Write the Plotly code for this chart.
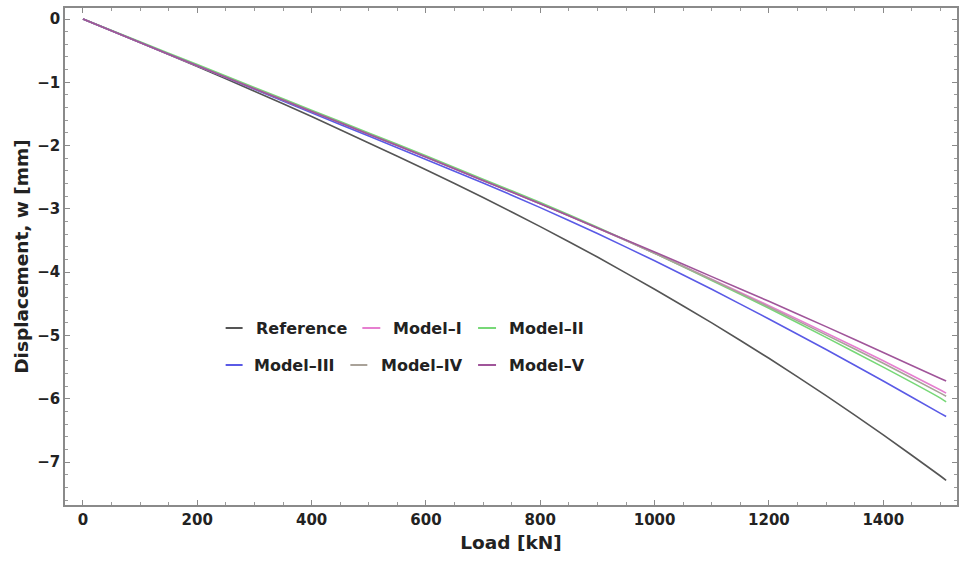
import plotly.graph_objects as go

# Load steps [kN]
load = [0, 100, 200, 300, 400, 500, 600, 700, 800, 900, 1000, 1100, 1200, 1300, 1400, 1500, 1510]

# Displacement w [mm] for each solution
w_reference = [0, -0.37, -0.75, -1.14, -1.54, -1.96, -2.38, -2.82, -3.28, -3.76, -4.27, -4.80, -5.36, -5.95, -6.57, -7.22, -7.29]
w_model_1 = [0, -0.37, -0.74, -1.10, -1.46, -1.82, -2.18, -2.55, -2.92, -3.30, -3.70, -4.11, -4.53, -4.96, -5.40, -5.86, -5.91]
w_model_2 = [0, -0.36, -0.72, -1.08, -1.44, -1.80, -2.16, -2.53, -2.90, -3.29, -3.70, -4.13, -4.57, -5.03, -5.50, -5.99, -6.05]
w_model_3 = [0, -0.37, -0.74, -1.11, -1.48, -1.85, -2.22, -2.59, -2.98, -3.39, -3.82, -4.27, -4.74, -5.22, -5.72, -6.23, -6.28]
w_model_4 = [0, -0.37, -0.74, -1.10, -1.46, -1.82, -2.18, -2.55, -2.92, -3.30, -3.70, -4.12, -4.55, -4.99, -5.44, -5.91, -5.96]
w_model_5 = [0, -0.37, -0.74, -1.10, -1.46, -1.82, -2.18, -2.55, -2.92, -3.30, -3.68, -4.07, -4.46, -4.86, -5.27, -5.68, -5.72]

series_names = ["Reference", "Model\u2013I", "Model\u2013II", "Model\u2013III", "Model\u2013IV", "Model\u2013V"]
series_values = [w_reference, w_model_1, w_model_2, w_model_3, w_model_4, w_model_5]
series_colors = ["#555555", "#e67fd0", "#77d877", "#5a5ae6", "#a9a299", "#a0559a"]

x_ticks = [0, 200, 400, 600, 800, 1000, 1200, 1400]
y_ticks = [0, -1, -2, -3, -4, -5, -6, -7]

W, H = 960, 564
M = dict(l=65, r=1, t=8, b=59)
FONT = "DejaVu Sans"

fig = go.Figure()

# draw order: models first, reference on top is not needed; keep natural order
for name, vals, col in zip(series_names, series_values, series_colors):
    fig.add_trace(go.Scatter(
        x=load, y=vals, mode="lines", name=name,
        line=dict(color=col, width=1.6, shape="spline", smoothing=0.6),
        showlegend=False,
    ))

axis_common = dict(
    showgrid=False, zeroline=False,
    showline=True, linecolor="#8a8a8a", linewidth=1.5, mirror="allticks",
    ticks="inside", ticklen=5, tickwidth=1, tickcolor="#8a8a8a",
    tickfont=dict(family=FONT, size=15, color="#222222", weight="bold"),
    minor=dict(ticks="inside", ticklen=3, tickwidth=1, tickcolor="#9a9a9a"),
)

fig.update_xaxes(
    **axis_common,
    range=[-31.4, 1529], tickvals=x_ticks, ticktext=[str(v) for v in x_ticks],
    title=dict(text="Load [kN]", font=dict(family=FONT, size=18.5, color="#222222", weight="bold"), standoff=8),
)
fig.update_xaxes(minor=dict(dtick=50, tick0=0))
fig.update_yaxes(
    **axis_common,
    range=[-7.678, 0.174], tickvals=y_ticks,
    ticktext=[("\u2212" + str(-v)) if v < 0 else str(v) for v in y_ticks],
    title=dict(text="Displacement, w [mm]", font=dict(family=FONT, size=18.5, color="#222222", weight="bold"), standoff=4),
)
fig.update_yaxes(minor=dict(dtick=0.2, tick0=0))

# Legend: two rows of three entries, short line swatch followed by label
pw = W - M["l"] - M["r"]
ph = H - M["t"] - M["b"]


def px_to_paper(px, py):
    return (px - M["l"]) / pw, 1 - (py - M["t"]) / ph


legend_pos = [  # (swatch start x, swatch end x, text x, row y) in pixels
    (226, 243, 254, 328),
    (363, 381, 392, 328),
    (479, 497, 508, 328),
    (226, 243, 252, 365),
    (351, 368, 380, 365),
    (479, 497, 508, 365),
]
for name, col, (sx0, sx1, tx, ry) in zip(series_names, series_colors, legend_pos):
    x0, y0 = px_to_paper(sx0, ry)
    x1, _ = px_to_paper(sx1, ry)
    xt, _ = px_to_paper(tx, ry)
    fig.add_shape(type="line", xref="paper", yref="paper", x0=x0, x1=x1, y0=y0, y1=y0,
                  line=dict(color=col, width=2))
    fig.add_annotation(xref="paper", yref="paper", x=xt, y=y0, text=name, showarrow=False,
                       xanchor="left", yanchor="middle",
                       font=dict(family=FONT, size=16, color="#222222", weight="bold"))

fig.update_layout(
    width=W, height=H, margin=M,
    paper_bgcolor="white", plot_bgcolor="white",
)

fig.write_html("out.html")
